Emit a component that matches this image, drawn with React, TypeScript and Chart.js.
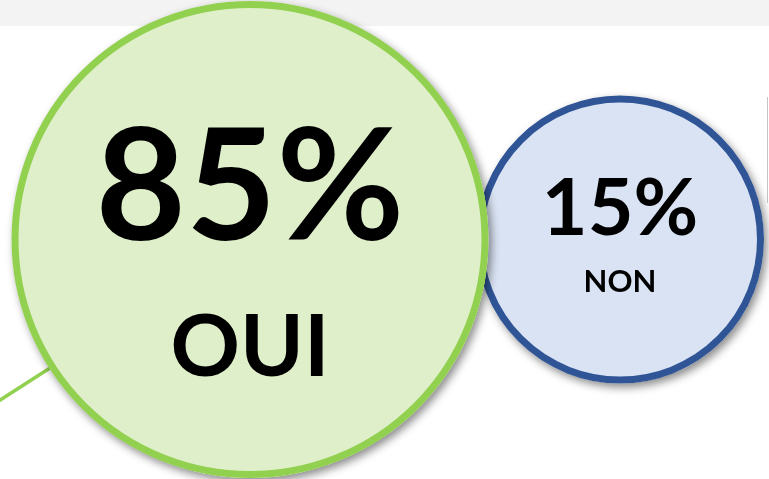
import React, { useEffect, useRef } from "react";
import { Chart, registerables } from "chart.js";

Chart.register(...registerables);

// ---- data ----
const answers = ["OUI", "NON"];
const percents = [85, 15];
const positions = [0, 1];
const rowY = [0, 0];
const leaderX = [-0.69, 0];
const leaderY = [-0.685, 0];

// ---- styles ----
const fills = ["#dfefca", "#dae3f3"];
const borders = ["#92d050", "#2f5597"];
const radii = [235, 140.5];
const borderWidths = [7, 7];
const pctFont = [156, 79];
const pctDy = [0.5, -4.5];
const nameFont = [86, 31];
const nameDy = [136.5, 52.5];
const FONT = "Lato, 'Open Sans', 'DejaVu Sans', sans-serif";

export default function App() {
  const ref = useRef<HTMLCanvasElement>(null);

  useEffect(() => {
    const canvas = ref.current!;

    const backdrop = {
      id: "backdrop",
      beforeDraw(chart: any) {
        const ctx = chart.ctx;
        ctx.save();
        ctx.fillStyle = "#ffffff";
        ctx.fillRect(0, 0, chart.width, chart.height);
        ctx.fillStyle = "#f3f3f3";
        ctx.fillRect(0, 0, chart.width, 26);
        ctx.strokeStyle = "#c4c4c4";
        ctx.lineWidth = 1;
        ctx.beginPath();
        ctx.moveTo(chart.width - 1.5, 97);
        ctx.lineTo(chart.width - 1.5, 203);
        ctx.stroke();
        ctx.restore();
      },
    };

    const discShadow = {
      id: "discShadow",
      beforeDatasetDraw(chart: any, args: any) {
        const ds = chart.data.datasets[args.index];
        if (!ds.castShadow) return;
        const ctx = chart.ctx;
        args.meta.data.forEach((el: any) => {
          const r = el.options.radius + el.options.borderWidth / 2;
          ctx.save();
          ctx.shadowColor = "rgba(0,0,0,0.45)";
          ctx.shadowBlur = 8;
          ctx.shadowOffsetX = 3;
          ctx.shadowOffsetY = 4;
          ctx.fillStyle = "#ffffff";
          ctx.beginPath();
          ctx.arc(el.x, el.y, r, 0, Math.PI * 2);
          ctx.fill();
          ctx.restore();
        });
      },
    };

    const labels = {
      id: "bubbleLabels",
      afterDatasetsDraw(chart: any) {
        const ctx = chart.ctx;
        answers.forEach((name, i) => {
          const el = chart.getDatasetMeta(i).data[0];
          if (!el) return;
          ctx.save();
          ctx.fillStyle = "#000000";
          ctx.textAlign = "center";
          ctx.textBaseline = "alphabetic";
          ctx.font = `bold ${pctFont[i]}px ${FONT}`;
          ctx.fillText(`${percents[i]}%`, el.x, el.y + pctDy[i]);
          ctx.font = `bold ${nameFont[i]}px ${FONT}`;
          ctx.fillText(name, el.x, el.y + nameDy[i]);
          ctx.restore();
        });
      },
    };

    const datasets: any[] = answers.map((name, i) => ({
      type: "scatter",
      label: name,
      data: [{ x: positions[i], y: rowY[i] }],
      pointRadius: radii[i],
      pointHoverRadius: radii[i],
      pointBackgroundColor: fills[i],
      pointBorderColor: borders[i],
      pointBorderWidth: borderWidths[i],
      clip: false,
      castShadow: true,
    }));
    datasets.push({
      type: "line",
      label: "leader",
      data: leaderX.map((x, i) => ({ x, y: leaderY[i] })),
      borderColor: "#92d050",
      borderWidth: 3.5,
      pointRadius: 0,
      showLine: true,
      fill: false,
      clip: false,
    });

    const chart = new Chart(canvas, {
      type: "scatter",
      data: { datasets },
      options: {
        animation: false,
        responsive: false,
        maintainAspectRatio: false,
        layout: { padding: 0, autoPadding: false },
        events: [],
        scales: {
          x: { type: "linear", display: false, min: -250 / 370, max: 519 / 370 },
          y: { type: "linear", display: false, min: -1, max: 1 },
        },
        plugins: {
          legend: { display: false },
          tooltip: { enabled: false },
        },
      },
      plugins: [backdrop, discShadow, labels],
    } as any);

    return () => chart.destroy();
  }, []);

  return (
    <div style={{ position: "fixed", left: 0, top: 0, width: 769, height: 479 }}>
      <canvas ref={ref} width={769} height={479} style={{ display: "block" }} />
    </div>
  );
}
